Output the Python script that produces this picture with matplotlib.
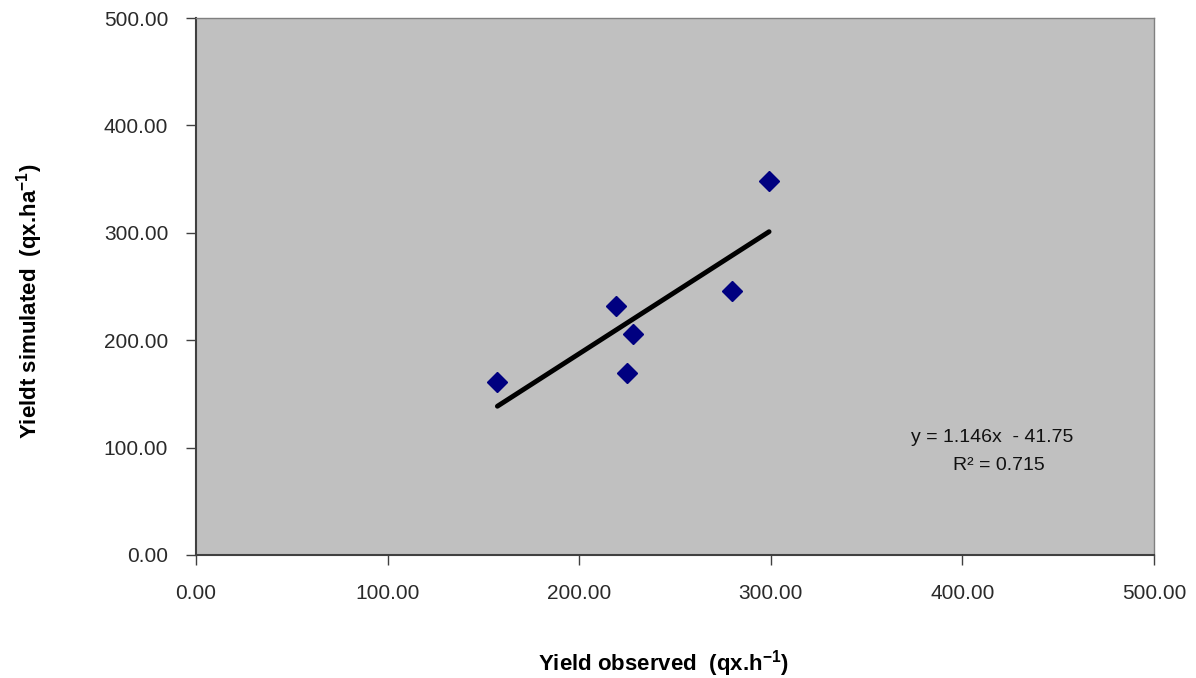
import matplotlib
matplotlib.use("Agg")
import matplotlib.pyplot as plt
import numpy as np

# values
observed = [157.3, 219.2, 224.8, 227.9, 279.6, 299.1]
simulated = [161.4, 232.1, 169.2, 206.1, 245.8, 348.5]
slope = 1.146
intercept = -41.75
r2 = 0.715
ticks = [0, 100, 200, 300, 400, 500]

plt.rcParams['font.family'] = ['Liberation Sans', 'DejaVu Sans']
plt.rcParams['mathtext.fontset'] = 'custom'
plt.rcParams['mathtext.rm'] = 'Liberation Sans'
plt.rcParams['mathtext.bf'] = 'Liberation Sans:bold'

W, H = 1196, 678
fig = plt.figure(figsize=(W / 100, H / 100), dpi=100)
ax = fig.add_axes([196 / W, 1 - 555 / H, 958 / W, 537 / H])
ax.set_facecolor('#c0c0c0')

ax.plot(observed, simulated, linestyle='none', marker='D', markersize=10,
        color='#000080', zorder=3)

xs = np.array([min(observed), max(observed)])
ax.plot(xs, slope * xs + intercept, color='black', linewidth=3.5,
        solid_capstyle='round', zorder=2)

ax.set_xlim(0, 500)
ax.set_ylim(0, 500)
ax.set_xticks(ticks)
ax.set_yticks(ticks)
ax.set_xticklabels(['%.2f' % t for t in ticks])
ax.set_yticklabels(['%.2f' % t for t in ticks])
ax.tick_params(direction='out', length=7, width=1, colors='#404040',
               labelsize=15, labelcolor='#2a2a2a')
ax.tick_params(axis='y', pad=13)
ax.tick_params(axis='x', pad=14)

for side in ['top', 'right']:
    ax.spines[side].set_color('#808080')
    ax.spines[side].set_linewidth(1)
for side in ['left', 'bottom']:
    ax.spines[side].set_color('#404040')
    ax.spines[side].set_linewidth(1.5)

fig.text(992 / W, 1 - 438 / H, 'y = 1.146x  - 41.75', ha='center',
         va='center', fontsize=14, color='#111111')
fig.text(999 / W, 1 - 465 / H, 'R\u00b2 = %.3f' % r2, ha='center',
         va='center', fontsize=14, color='#111111')

fig.text(663 / W, 1 - 664 / H, r'Yield observed  (qx.h$^{\mathbf{-1}}$)',
         ha='center', va='center', fontsize=16, fontweight='bold')
fig.text(30 / W, 1 - 301 / H, r'Yieldt simulated  (qx.ha$^{\mathbf{-1}}$)',
         ha='center', va='center', fontsize=16, fontweight='bold', rotation=90)

fig.savefig('out.png', dpi=100)
